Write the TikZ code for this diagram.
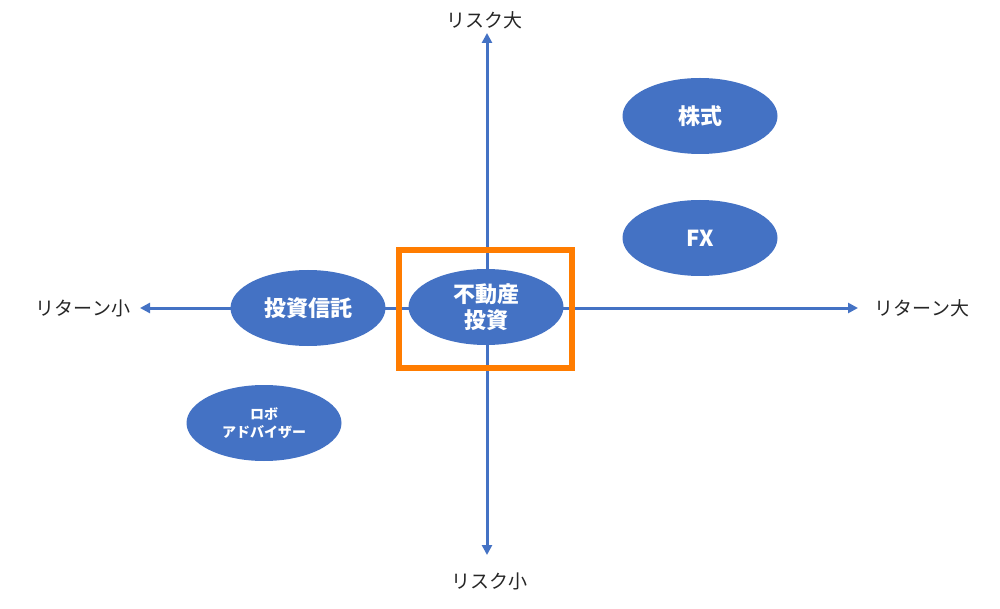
\documentclass[tikz,border=0pt]{standalone}
\usepackage{fontspec}
\newfontfamily\jpfont{Noto Sans CJK JP}
\usepackage{tikz}
\usetikzlibrary{arrows.meta,shapes.geometric}
\definecolor{axisblue}{HTML}{4472C4}
\definecolor{markorange}{HTML}{FF7C00}

\begin{document}
\begin{tikzpicture}[
		x=1pt, y=-1pt
		,axis/.style={draw=axisblue, line width=3pt, {Triangle[length=10pt,width=10pt]}-{Triangle[length=10pt,width=10pt]}}
		,label/.style={font=\jpfont\fontsize{19}{23}\selectfont, text=black!85, inner sep=0pt}
		,asset/.style={ellipse, fill=axisblue, text=white, minimum width=155pt, minimum height=76pt, inner sep=0pt, align=center, font=\jpfont\bfseries\fontsize{22}{26}\selectfont}
	]
		\useasboundingbox (0,0) rectangle (1000,609);

		\node[label] (riskhigh) at (484,20) {リスク大};
		\node[label] (risklow) at (489,581) {リスク小};
		\node[label] (retlow) at (83,308) {リターン小};
		\node[label] (rethigh) at (922,308) {リターン大};

		\coordinate (ytop) at (487,33);
		\coordinate (ybot) at (487,555);
		\coordinate (xleft) at (140,308);
		\coordinate (xright) at (858,308);

		\draw[axis] (ybot) -- (ytop);
		\draw[axis] (xleft) -- (xright);

		\node[asset] (stock) at (700,116) {株式};
		\node[asset] (fx) at (700,238) {FX};
		\node[asset] (trust) at (308,308) {投資信託};
		\node[asset] (estate) at (486,307) {不動産\\投資};
		\node[asset, font=\jpfont\bfseries\fontsize{14}{18}\selectfont] (robo) at (264,423) {ロボ\\アドバイザー};

		\node[draw=markorange, line width=6pt, minimum width=173pt, minimum height=118pt] (focus) at (485.5,309) {};
	\end{tikzpicture}
\end{document}
